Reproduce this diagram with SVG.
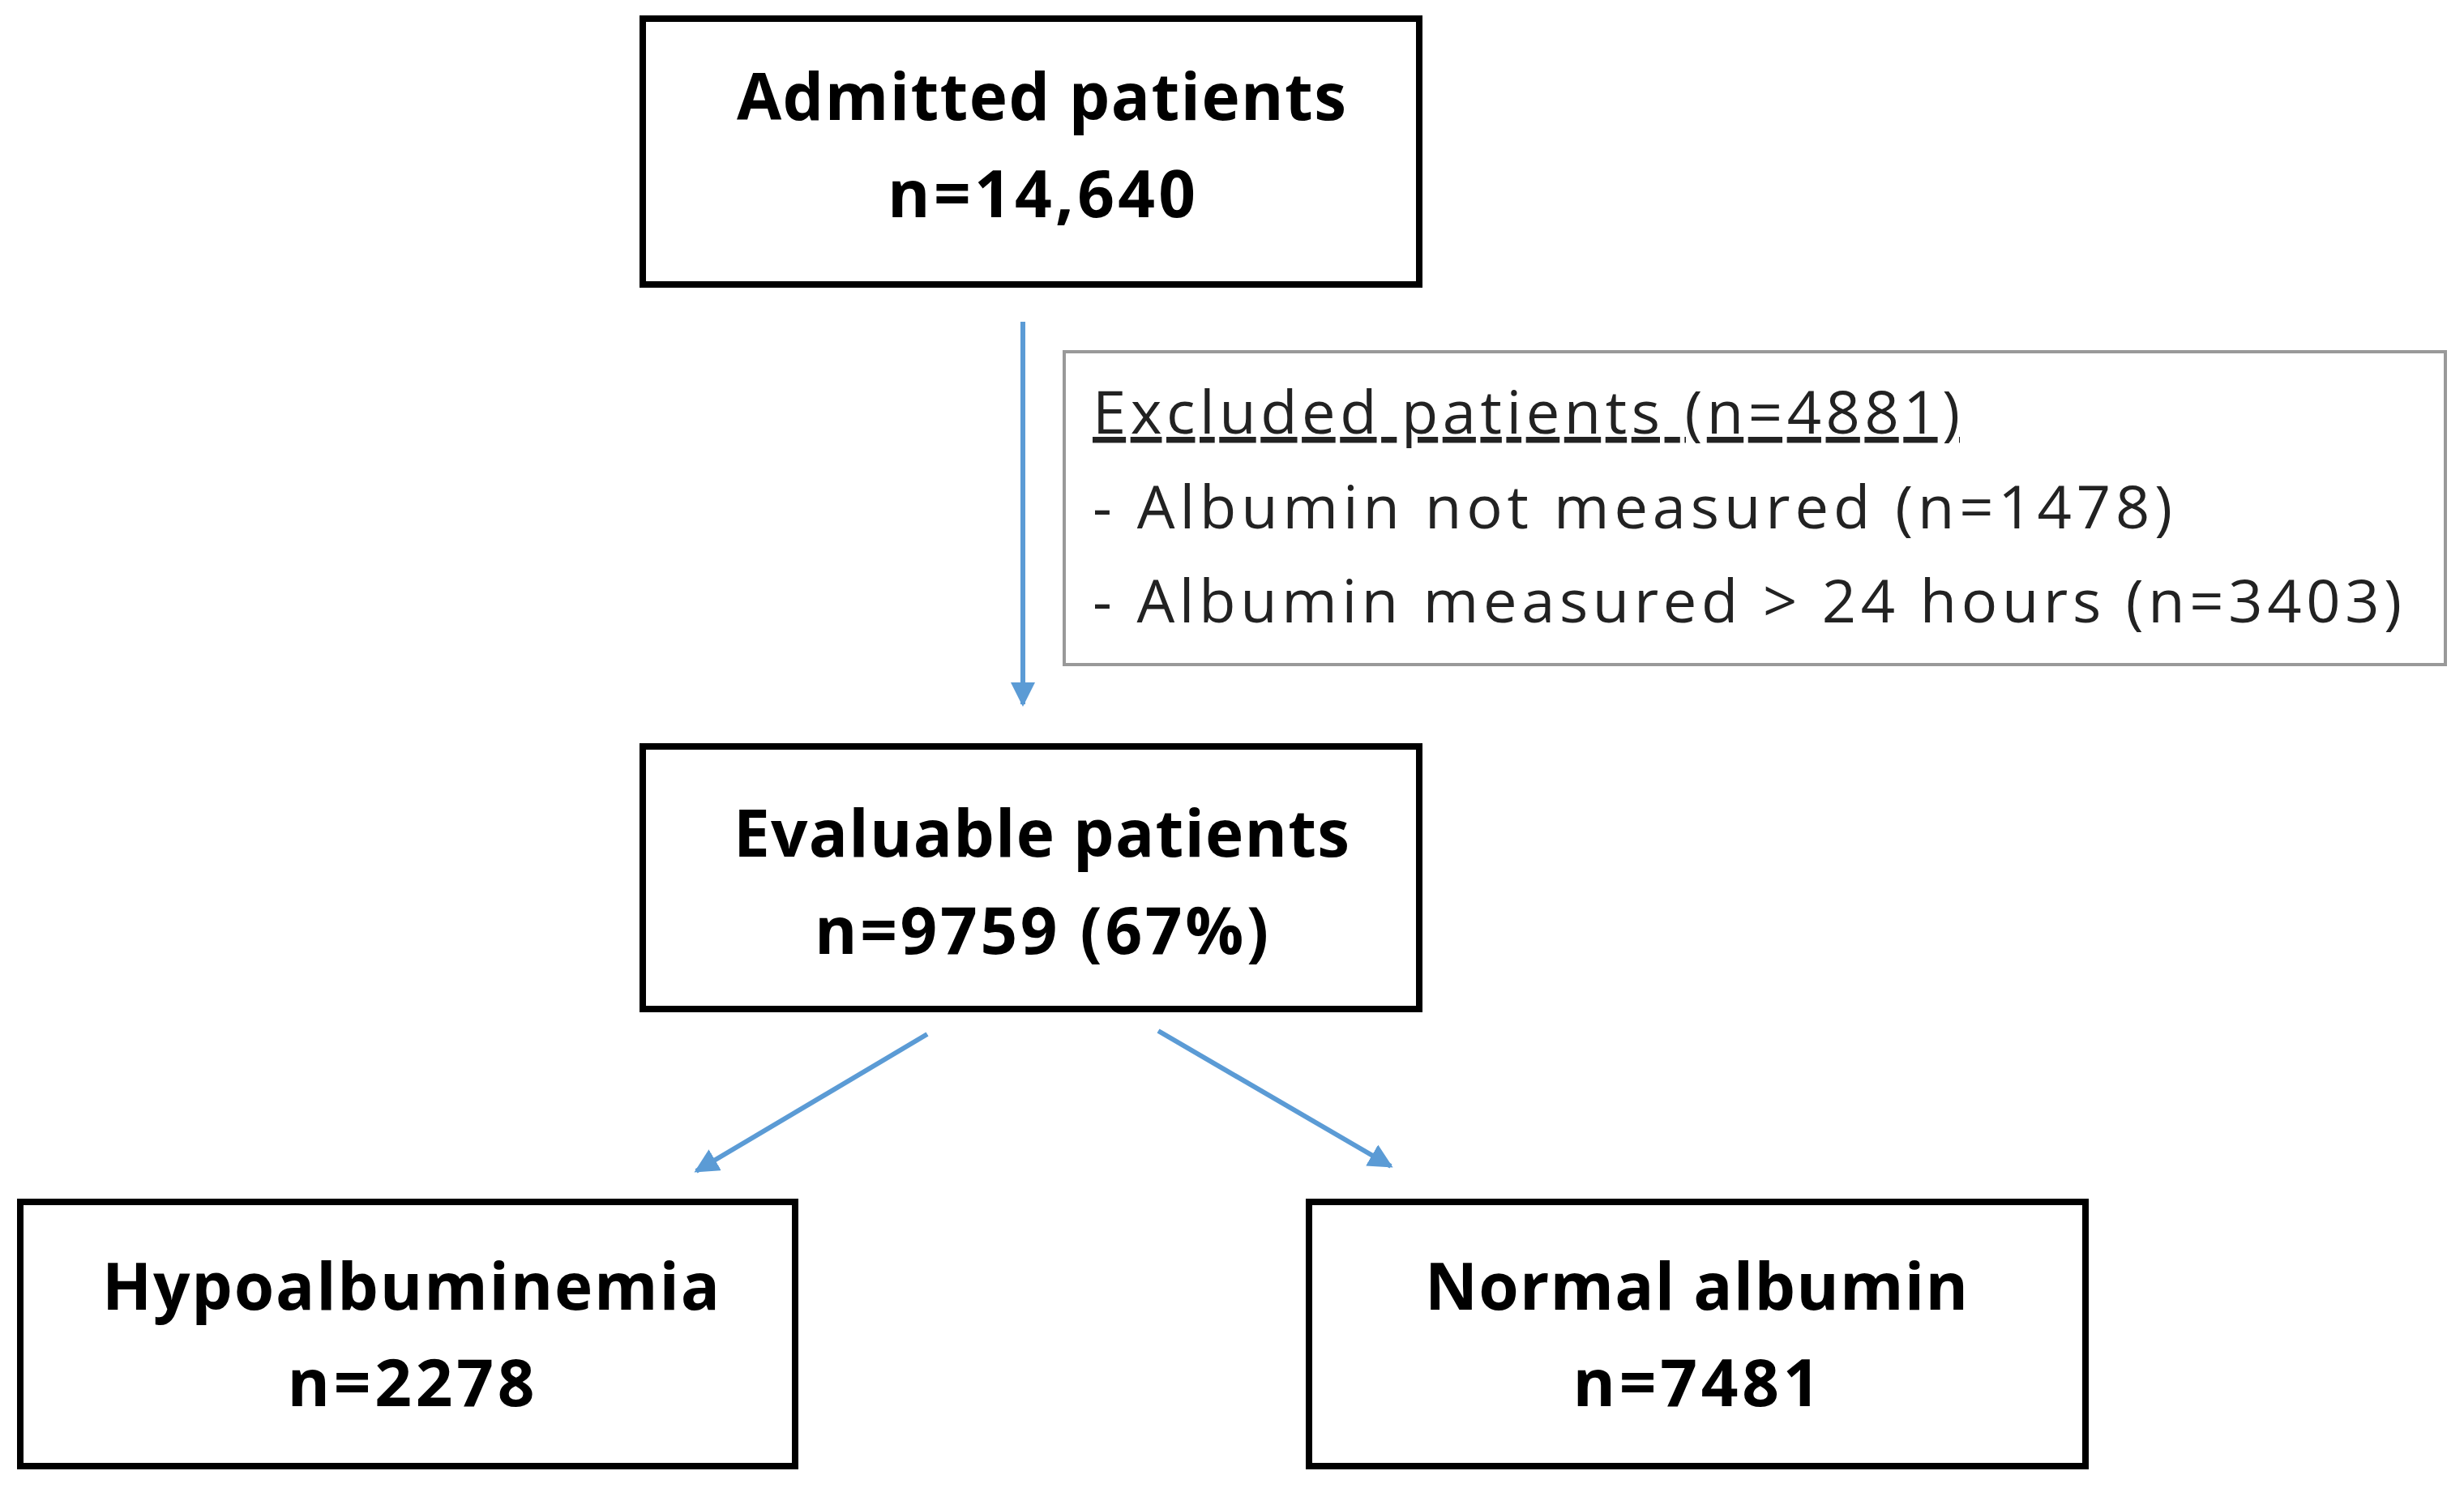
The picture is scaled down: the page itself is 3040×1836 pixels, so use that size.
<svg xmlns="http://www.w3.org/2000/svg" width="3040" height="1836" viewBox="0 0 3040 1836">
<style>
.box{fill:#fff;stroke:#000;stroke-width:8}
.b{font-family:"Open Sans","Liberation Sans",sans-serif;font-weight:bold;font-size:80px;fill:#000;text-anchor:middle}
.t{font-family:"Open Sans","Liberation Sans",sans-serif;font-size:74px;fill:#222}
.c{stroke:#5b9bd5;stroke-width:6;fill:none;marker-end:url(#ah)}
</style>
<defs><marker id="ah" viewBox="0 0 10 10" refX="9" refY="5" markerWidth="5" markerHeight="5" orient="auto" markerUnits="strokeWidth"><path d="M0,0 L10,5 L0,10 z" fill="#5b9bd5"/></marker></defs>
<rect width="3040" height="1836" fill="#fff"/>
<g id="connectors">
<line class="c" x1="1262" y1="397" x2="1262" y2="869"/>
<line class="c" x1="1144" y1="1276" x2="859" y2="1445"/>
<line class="c" x1="1429" y1="1272" x2="1716" y2="1439"/>
</g>
<g id="admitted"><rect class="box" x="793" y="23" width="958" height="328"/>
<text class="b" x="1285" y="148" textLength="752">Admitted patients</text>
<text class="b" x="1285" y="268" textLength="380">n=14,640</text></g>
<g id="excluded"><rect x="1313" y="434" width="1704" height="386" fill="#fff" stroke="#999" stroke-width="4"/>
<text class="t" x="1348" y="535" textLength="1070" text-decoration="underline">Excluded patients (n=4881)</text>
<text class="t" x="1348" y="652" textLength="1332">- Albumin not measured (n=1478)</text>
<text class="t" x="1348" y="768" textLength="1615">- Albumin measured &gt; 24 hours (n=3403)</text></g>
<g id="evaluable"><rect class="box" x="793" y="921" width="958" height="324"/>
<text class="b" x="1285" y="1057" textLength="760">Evaluable patients</text>
<text class="b" x="1285" y="1177" textLength="560">n=9759 (67%)</text></g>
<g id="hypo"><rect class="box" x="25" y="1483" width="956" height="326"/>
<text class="b" x="507" y="1616" textLength="762">Hypoalbuminemia</text>
<text class="b" x="507" y="1735" textLength="305">n=2278</text></g>
<g id="normal"><rect class="box" x="1615" y="1483" width="958" height="326"/>
<text class="b" x="2093" y="1616" textLength="670">Normal albumin</text>
<text class="b" x="2093" y="1735" textLength="305">n=7481</text></g>
</svg>
